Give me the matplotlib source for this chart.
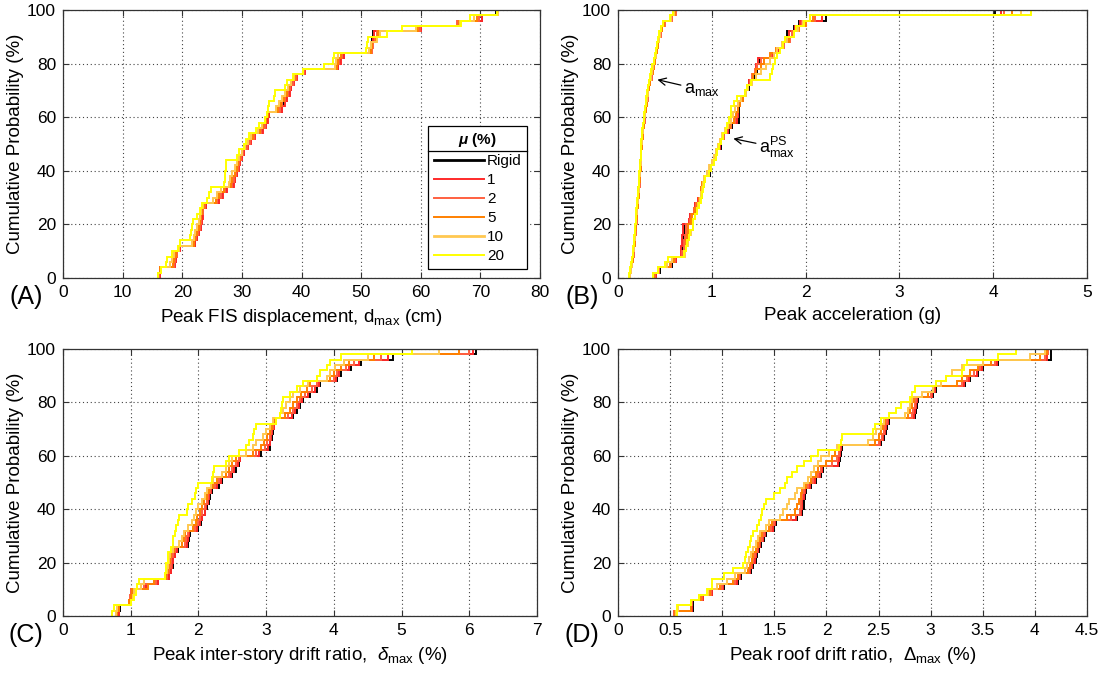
import numpy as np
import matplotlib
matplotlib.use("Agg")
import matplotlib.pyplot as plt
from matplotlib.lines import Line2D

plt.rcParams['font.family'] = ['Liberation Sans', 'DejaVu Sans']
plt.rcParams['mathtext.fontset'] = 'custom'
plt.rcParams['mathtext.rm'] = 'Liberation Sans'
plt.rcParams['mathtext.it'] = 'Liberation Sans:italic'
plt.rcParams['mathtext.bf'] = 'Liberation Sans:bold:italic'

series_labels = ["Rigid", "1", "2", "5", "10", "20"]
series_colors = ["#000000", "#FF2A2A", "#FF6040", "#FF8000", "#FFC850", "#FFFF00"]

# ---------------- Panel A: peak FIS displacement (cm) ----------------
A_rigid = [16.1,16.2,18.7,18.9,19.2,19.5,22.1,22.4,22.7,23.1,23.2,23.3,23.5,23.9,26.1,26.7,27.4,28.5,28.8,29.1,
           29.4,29.6,29.9,30.3,30.9,31.4,32.1,33.4,33.9,34.2,34.5,36.7,37.1,37.5,37.9,38.2,38.6,39.1,40.5,46.1,
           46.5,47.1,51.6,51.8,51.9,52.0,59.9,66.2,70.2,72.7]
A_mu1 = [16.2,16.2,18.8,19.0,19.2,19.6,22.2,22.5,22.8,23.2,23.3,23.4,23.5,24.0,26.2,26.8,27.5,28.6,28.9,29.2,
         29.5,29.7,30.0,30.4,31.0,31.5,32.2,33.5,34.0,34.3,34.6,36.8,37.2,37.6,38.0,38.3,38.7,39.2,40.6,46.2,
         46.6,47.2,51.7,51.9,52.0,52.1,60.0,66.3,70.3,72.8]
A_mu2 = [16.1,16.3,18.6,18.8,19.1,19.5,22.0,22.3,22.6,23.0,23.1,23.2,23.4,23.8,25.9,26.5,27.2,28.3,28.6,29.0,
         29.3,29.5,29.8,30.2,30.8,31.3,32.0,33.2,33.8,34.1,34.4,36.4,36.8,37.3,37.8,38.1,38.5,39.0,40.4,46.0,
         46.3,46.8,51.8,52.0,52.3,52.6,59.8,66.1,69.8,72.9]
A_mu5 = [16.0,16.3,18.4,18.6,18.9,19.4,21.9,22.1,22.4,22.8,23.0,23.1,23.3,23.6,25.6,26.2,27.0,28.1,28.4,28.8,
         29.1,29.4,29.7,30.1,30.6,31.1,31.8,33.0,33.6,34.0,34.3,36.1,36.5,37.0,37.5,37.9,38.3,38.9,40.3,45.9,
         46.1,46.6,51.6,51.9,52.5,52.9,59.5,66.4,69.5,72.9]
A_mu10 = [15.9,16.4,17.9,18.2,18.7,19.4,21.7,21.9,22.1,22.5,22.8,23.0,23.2,23.5,25.2,25.8,26.5,27.8,28.0,28.4,
          28.8,29.2,29.6,30.0,30.5,31.0,31.6,32.7,33.3,33.9,34.2,35.8,36.2,36.7,37.2,37.7,38.2,38.8,40.3,45.6,
          45.8,46.2,51.3,51.6,52.7,53.2,59.2,66.5,69.0,72.9]
A_mu20 = [15.9,16.4,17.2,17.5,18.2,19.3,19.7,21.3,21.5,21.6,21.8,22.5,23.0,23.3,24.2,24.5,24.8,27.0,27.1,27.2,
          27.3,27.4,29.2,29.6,30.3,30.7,31.2,32.3,32.8,33.8,34.2,34.4,34.6,35.4,35.5,37.2,37.5,38.5,40.2,43.7,
          45.2,45.4,50.8,51.0,51.2,54.3,56.8,66.8,68.2,72.8]

# ---------------- Panel B: peak accelerations (g) ----------------
Bamax_rigid = [0.13,0.14,0.15,0.16,0.16,0.17,0.17,0.18,0.18,0.18,0.19,0.19,0.20,0.20,0.21,0.21,0.21,0.22,0.22,0.23,
               0.23,0.23,0.24,0.25,0.25,0.26,0.26,0.27,0.28,0.28,0.29,0.30,0.30,0.31,0.32,0.33,0.34,0.35,0.36,0.37,
               0.39,0.40,0.41,0.43,0.44,0.45,0.46,0.48,0.57,0.61]
Bamax_mu1 = [0.13,0.14,0.15,0.16,0.17,0.17,0.18,0.18,0.18,0.19,0.19,0.20,0.20,0.21,0.21,0.21,0.22,0.22,0.23,0.23,
             0.23,0.24,0.24,0.25,0.26,0.26,0.27,0.27,0.28,0.29,0.29,0.30,0.31,0.31,0.32,0.33,0.34,0.35,0.37,0.38,
             0.39,0.40,0.42,0.43,0.44,0.45,0.47,0.49,0.57,0.61]
Bamax_mu2 = [0.13,0.14,0.15,0.16,0.17,0.17,0.18,0.18,0.19,0.19,0.20,0.20,0.20,0.21,0.21,0.22,0.22,0.23,0.23,0.23,
             0.24,0.24,0.25,0.25,0.26,0.26,0.27,0.27,0.28,0.29,0.29,0.30,0.31,0.32,0.32,0.33,0.34,0.36,0.37,0.38,
             0.39,0.41,0.42,0.43,0.44,0.46,0.47,0.50,0.58,0.62]
Bamax_mu5 = [0.13,0.14,0.15,0.16,0.16,0.17,0.18,0.18,0.18,0.19,0.19,0.20,0.20,0.21,0.21,0.22,0.22,0.22,0.23,0.23,
             0.24,0.24,0.25,0.25,0.26,0.26,0.27,0.27,0.28,0.28,0.29,0.30,0.31,0.31,0.32,0.33,0.34,0.35,0.37,0.38,
             0.39,0.40,0.42,0.43,0.44,0.45,0.47,0.49,0.57,0.61]
Bamax_mu10 = [0.13,0.14,0.15,0.15,0.16,0.17,0.17,0.18,0.18,0.18,0.19,0.19,0.20,0.20,0.21,0.21,0.22,0.22,0.22,0.23,
              0.23,0.24,0.24,0.25,0.25,0.26,0.26,0.27,0.27,0.28,0.29,0.29,0.30,0.31,0.32,0.32,0.33,0.35,0.36,0.37,
              0.38,0.40,0.41,0.42,0.44,0.45,0.46,0.48,0.56,0.60]
Bamax_mu20 = [0.12,0.13,0.14,0.15,0.16,0.16,0.17,0.17,0.18,0.18,0.19,0.19,0.19,0.20,0.20,0.21,0.21,0.22,0.22,0.22,
              0.23,0.23,0.24,0.24,0.25,0.25,0.26,0.26,0.27,0.28,0.28,0.29,0.30,0.30,0.31,0.32,0.33,0.34,0.35,0.36,
              0.38,0.39,0.40,0.42,0.43,0.44,0.46,0.48,0.55,0.59]

Bps_rigid = [0.40,0.45,0.58,0.62,0.68,0.68,0.69,0.69,0.70,0.70,0.77,0.77,0.82,0.82,0.86,0.90,0.90,0.92,0.92,0.98,
             0.98,1.01,1.05,1.05,1.10,1.10,1.13,1.18,1.22,1.29,1.29,1.29,1.29,1.33,1.36,1.40,1.40,1.45,1.48,1.48,
             1.50,1.66,1.72,1.75,1.80,1.80,1.88,1.93,2.22,4.02]
Bps_mu1 = [0.40,0.44,0.57,0.62,0.67,0.67,0.68,0.68,0.69,0.69,0.76,0.77,0.81,0.82,0.85,0.89,0.90,0.91,0.92,0.97,
           0.98,1.00,1.04,1.05,1.09,1.10,1.12,1.17,1.21,1.27,1.28,1.28,1.28,1.32,1.35,1.39,1.40,1.44,1.47,1.47,
           1.49,1.65,1.72,1.76,1.81,1.82,1.89,1.94,2.18,4.08]
Bps_mu2 = [0.39,0.44,0.56,0.61,0.68,0.70,0.70,0.71,0.72,0.72,0.77,0.78,0.81,0.83,0.86,0.88,0.89,0.91,0.93,0.96,
           0.98,1.01,1.03,1.05,1.08,1.10,1.13,1.16,1.20,1.25,1.27,1.28,1.30,1.32,1.36,1.38,1.41,1.43,1.46,1.48,
           1.52,1.63,1.70,1.77,1.83,1.86,1.91,1.96,2.10,4.12]
Bps_mu5 = [0.38,0.43,0.55,0.60,0.70,0.72,0.73,0.74,0.75,0.75,0.78,0.79,0.82,0.84,0.86,0.88,0.89,0.90,0.92,0.95,
           0.98,1.00,1.03,1.04,1.07,1.09,1.12,1.15,1.19,1.24,1.26,1.28,1.30,1.33,1.36,1.38,1.42,1.44,1.47,1.52,
           1.56,1.62,1.68,1.75,1.82,1.88,1.93,2.00,2.08,4.20]
Bps_mu10 = [0.37,0.43,0.52,0.58,0.71,0.73,0.75,0.76,0.78,0.80,0.80,0.82,0.84,0.85,0.87,0.88,0.90,0.91,0.92,0.95,
            0.97,1.00,1.02,1.05,1.07,1.09,1.11,1.14,1.17,1.21,1.23,1.25,1.28,1.31,1.36,1.39,1.43,1.47,1.52,1.58,
            1.62,1.66,1.70,1.75,1.80,1.88,1.92,1.97,2.05,4.30]
Bps_mu20 = [0.37,0.43,0.50,0.53,0.70,0.72,0.74,0.76,0.77,0.80,0.80,0.82,0.84,0.86,0.88,0.90,0.91,0.92,0.93,0.97,
            0.99,1.02,1.04,1.06,1.08,1.10,1.12,1.15,1.16,1.18,1.20,1.21,1.24,1.27,1.35,1.38,1.42,1.62,1.64,1.65,
            1.67,1.70,1.73,1.76,1.78,1.88,1.90,1.98,2.05,4.40]

# ---------------- Panel C: peak inter-story drift ratio (%) ----------------
C_rigid = [0.82,0.84,1.00,1.01,1.02,1.23,1.41,1.57,1.60,1.62,1.63,1.66,1.70,1.85,1.86,1.87,2.00,2.04,2.06,2.10,
           2.12,2.15,2.17,2.20,2.30,2.35,2.50,2.55,2.60,2.62,2.92,3.05,3.06,3.08,3.10,3.12,3.15,3.40,3.45,3.50,
           3.55,3.65,3.75,3.80,4.05,4.10,4.25,4.40,4.88,6.10]
C_mu1 = [0.82,0.83,0.99,1.00,1.01,1.22,1.40,1.56,1.59,1.61,1.62,1.65,1.69,1.83,1.85,1.86,1.98,2.03,2.05,2.09,
         2.11,2.14,2.16,2.19,2.28,2.33,2.48,2.53,2.58,2.61,2.90,3.03,3.05,3.07,3.09,3.11,3.14,3.38,3.43,3.48,
         3.53,3.62,3.72,3.78,4.03,4.08,4.22,4.37,4.80,6.05]
C_mu2 = [0.80,0.82,0.97,0.99,1.00,1.20,1.38,1.54,1.57,1.59,1.60,1.62,1.66,1.80,1.82,1.84,1.95,2.00,2.02,2.06,
         2.09,2.12,2.14,2.17,2.25,2.30,2.45,2.50,2.55,2.60,2.85,2.98,3.02,3.05,3.07,3.10,3.13,3.33,3.40,3.45,
         3.50,3.58,3.68,3.75,4.00,4.05,4.18,4.30,4.70,6.00]
C_mu5 = [0.80,0.82,0.98,1.00,1.02,1.25,1.35,1.52,1.55,1.57,1.58,1.60,1.64,1.75,1.78,1.80,1.92,1.96,1.98,2.02,
         2.05,2.08,2.12,2.15,2.22,2.28,2.40,2.45,2.50,2.55,2.80,2.92,2.97,3.02,3.05,3.08,3.12,3.28,3.35,3.40,
         3.45,3.52,3.60,3.65,3.95,4.00,4.10,4.22,4.60,5.85]
C_mu10 = [0.78,0.80,1.00,1.03,1.05,1.15,1.20,1.50,1.53,1.55,1.57,1.58,1.62,1.72,1.75,1.78,1.85,1.90,1.93,1.97,
          2.00,2.05,2.10,2.13,2.18,2.22,2.35,2.40,2.45,2.50,2.70,2.80,2.85,2.95,3.00,3.05,3.10,3.20,3.25,3.30,
          3.35,3.40,3.50,3.62,3.90,3.95,4.02,4.15,4.50,5.55]
C_mu20 = [0.72,0.75,1.00,1.05,1.08,1.10,1.12,1.50,1.52,1.52,1.55,1.55,1.60,1.62,1.63,1.65,1.67,1.70,1.72,1.83,
          1.85,1.90,1.95,1.97,2.00,2.20,2.22,2.23,2.40,2.45,2.60,2.70,2.75,2.80,2.82,2.85,3.15,3.20,3.22,3.23,
          3.25,3.35,3.45,3.55,3.75,3.80,3.90,3.95,4.10,5.15]

# ---------------- Panel D: peak roof drift ratio (%) ----------------
D_rigid = [0.55,0.72,0.72,0.82,0.90,1.02,1.15,1.18,1.28,1.30,1.32,1.33,1.35,1.37,1.40,1.42,1.50,1.52,1.72,1.77,
           1.78,1.78,1.79,1.80,1.85,1.90,1.95,1.97,2.12,2.13,2.14,2.15,2.52,2.55,2.57,2.58,2.60,2.85,2.86,2.87,
           2.88,3.02,3.05,3.33,3.38,3.45,3.50,3.65,4.15,4.15]
D_mu1 = [0.54,0.71,0.71,0.82,0.90,1.01,1.14,1.17,1.27,1.29,1.31,1.32,1.34,1.36,1.39,1.41,1.49,1.51,1.71,1.76,
         1.77,1.77,1.78,1.79,1.84,1.89,1.94,1.96,2.11,2.12,2.13,2.14,2.51,2.54,2.56,2.57,2.59,2.84,2.85,2.86,
         2.87,3.01,3.04,3.32,3.37,3.44,3.49,3.64,4.12,4.13]
D_mu2 = [0.54,0.70,0.71,0.81,0.89,1.00,1.12,1.16,1.26,1.28,1.30,1.31,1.33,1.35,1.38,1.40,1.47,1.50,1.66,1.75,
         1.76,1.76,1.77,1.78,1.82,1.87,1.92,1.95,2.05,2.10,2.12,2.13,2.50,2.53,2.55,2.56,2.58,2.82,2.83,2.85,
         2.86,3.00,3.03,3.30,3.35,3.42,3.47,3.62,4.10,4.13]
D_mu5 = [0.55,0.70,0.70,0.80,0.88,0.98,1.10,1.15,1.25,1.27,1.29,1.30,1.32,1.34,1.36,1.38,1.45,1.48,1.62,1.70,
         1.72,1.74,1.76,1.77,1.80,1.85,1.90,1.92,2.00,2.05,2.08,2.12,2.47,2.50,2.52,2.54,2.56,2.78,2.80,2.82,
         2.84,2.97,3.02,3.25,3.30,3.38,3.45,3.58,4.05,4.12]
D_mu10 = [0.56,0.58,0.70,0.78,0.86,0.95,1.05,1.12,1.22,1.24,1.26,1.28,1.30,1.32,1.34,1.36,1.42,1.45,1.55,1.58,
          1.62,1.64,1.70,1.72,1.78,1.82,1.85,1.88,1.92,1.95,2.02,2.10,2.40,2.45,2.48,2.52,2.55,2.75,2.78,2.80,
          2.82,2.92,3.02,3.10,3.15,3.20,3.30,3.50,3.95,4.10]
D_mu20 = [0.57,0.57,0.70,0.78,0.85,0.90,0.90,1.02,1.10,1.20,1.22,1.23,1.25,1.27,1.28,1.30,1.33,1.35,1.37,1.38,
          1.40,1.42,1.50,1.55,1.60,1.62,1.67,1.72,1.78,1.85,1.92,2.12,2.14,2.15,2.45,2.47,2.52,2.60,2.67,2.72,
          2.80,2.82,2.85,3.05,3.15,3.30,3.32,3.35,3.65,3.82]

A_sets = [A_rigid, A_mu1, A_mu2, A_mu5, A_mu10, A_mu20]
Bamax_sets = [Bamax_rigid, Bamax_mu1, Bamax_mu2, Bamax_mu5, Bamax_mu10, Bamax_mu20]
Bps_sets = [Bps_rigid, Bps_mu1, Bps_mu2, Bps_mu5, Bps_mu10, Bps_mu20]
C_sets = [C_rigid, C_mu1, C_mu2, C_mu5, C_mu10, C_mu20]
D_sets = [D_rigid, D_mu1, D_mu2, D_mu5, D_mu10, D_mu20]

A_xticks = [0, 10, 20, 30, 40, 50, 60, 70, 80]
B_xticks = [0, 1, 2, 3, 4, 5]
C_xticks = [0, 1, 2, 3, 4, 5, 6, 7]
D_xticks = [0, 0.5, 1, 1.5, 2, 2.5, 3, 3.5, 4, 4.5]
D_xticklabels = ["0", "0.5", "1", "1.5", "2", "2.5", "3", "3.5", "4", "4.5"]
y_ticks = [0, 20, 40, 60, 80, 100]

W, H = 1110, 677
fig = plt.figure(figsize=(W / 100, H / 100), dpi=100)


def make_ax(l, r, t, b):
    return fig.add_axes([l / W, 1 - b / H, (r - l) / W, (b - t) / H])


axA = make_ax(63, 540, 10, 278)
axB = make_ax(618, 1087, 10, 278)
axC = make_ax(63, 537, 349, 616)
axD = make_ax(618, 1087, 349, 616)


def ecdf(ax, vals, color, label=None, lw=1.4):
    v = np.sort(np.asarray(vals, dtype=float))
    n = len(v)
    xs = np.r_[v[0], v]
    ys = np.r_[0.0, np.arange(1, n + 1) / n * 100.0]
    ax.step(xs, ys, where='post', color=color, lw=lw, label=label, solid_joinstyle='miter')


def style(ax, xlim, xticks, xlabel, xticklabels=None):
    ax.set_xlim(xlim)
    ax.set_ylim(0, 100)
    ax.set_xticks(xticks)
    if xticklabels is not None:
        ax.set_xticklabels(xticklabels)
    ax.set_yticks(y_ticks)
    ax.grid(True, linestyle=(0, (1, 2.5)), color='#444444', lw=0.8)
    ax.tick_params(direction='in', top=True, right=True, length=4, width=0.8,
                   labelsize=12.5, pad=5, color='#333333')
    for s in ax.spines.values():
        s.set_linewidth(0.9)
        s.set_color('#333333')
    ax.set_ylabel("Cumulative Probability (%)", fontsize=13.5, labelpad=2)
    ax.set_xlabel(xlabel, fontsize=13.5, labelpad=5)


for vals, c, lab in zip(A_sets, series_colors, series_labels):
    ecdf(axA, vals, c, lab)
for vals, c in zip(Bamax_sets, series_colors):
    ecdf(axB, vals, c)
for vals, c in zip(Bps_sets, series_colors):
    ecdf(axB, vals, c)
for vals, c in zip(C_sets, series_colors):
    ecdf(axC, vals, c)
for vals, c in zip(D_sets, series_colors):
    ecdf(axD, vals, c)

style(axA, (0, 80), A_xticks, r"Peak FIS displacement, d$_{\mathrm{max}}$ (cm)")
style(axB, (0, 5), B_xticks, "Peak acceleration (g)")
style(axC, (0, 7), C_xticks, r"Peak inter-story drift ratio,  $\delta_{\mathrm{max}}$ (%)")
style(axD, (0, 4.5), D_xticks, r"Peak roof drift ratio,  $\Delta_{\mathrm{max}}$ (%)", D_xticklabels)

# Legend in panel A
handles = [Line2D([0], [0], color=c, lw=(2.0 if i == 0 or i == 4 else 1.4)) for i, c in enumerate(series_colors)]
leg = axA.legend(handles, series_labels, title=r"$\mathbf{\mu}$ (%)", loc='lower right',
                 bbox_to_anchor=(0.973, 0.035), fontsize=11, title_fontsize=11,
                 frameon=True, fancybox=False, edgecolor='black', framealpha=1,
                 handlelength=3.3, handletextpad=0.2, labelspacing=0.33, borderpad=0.35,
                 borderaxespad=0.0)
leg.get_title().set_fontweight('bold')
leg.get_frame().set_linewidth(0.9)

# annotations in panel B
axB.annotate(r"a$_{\mathrm{max}}$", xy=(0.42, 74), xytext=(0.70, 67),
             fontsize=13, arrowprops=dict(arrowstyle='->', color='black', lw=0.9, shrinkA=0, shrinkB=0),
             va='bottom', ha='left')
axB.annotate(r"a$^{\mathrm{PS}}_{\mathrm{max}}$", xy=(1.23, 52), xytext=(1.50, 44),
             fontsize=13, arrowprops=dict(arrowstyle='->', color='black', lw=0.9, shrinkA=0, shrinkB=0),
             va='bottom', ha='left')

# panel letters
for txt, (px, py) in zip(["(A)", "(B)", "(C)", "(D)"], [(26, 297), (582, 297), (26, 635), (582, 635)]):
    fig.text(px / W, 1 - py / H, txt, fontsize=18, ha='center', va='center')

# separator line under the legend title
fig.canvas.draw()
r = fig.canvas.get_renderer()
fb = leg.get_frame().get_window_extent(r)
tb = leg.get_title().get_window_extent(r)
ysep = tb.y0 - 2
fig.add_artist(Line2D([fb.x0 / W, fb.x1 / W], [ysep / H, ysep / H], color='black', lw=0.9,
                      transform=fig.transFigure))

fig.savefig("out.png", dpi=100)
